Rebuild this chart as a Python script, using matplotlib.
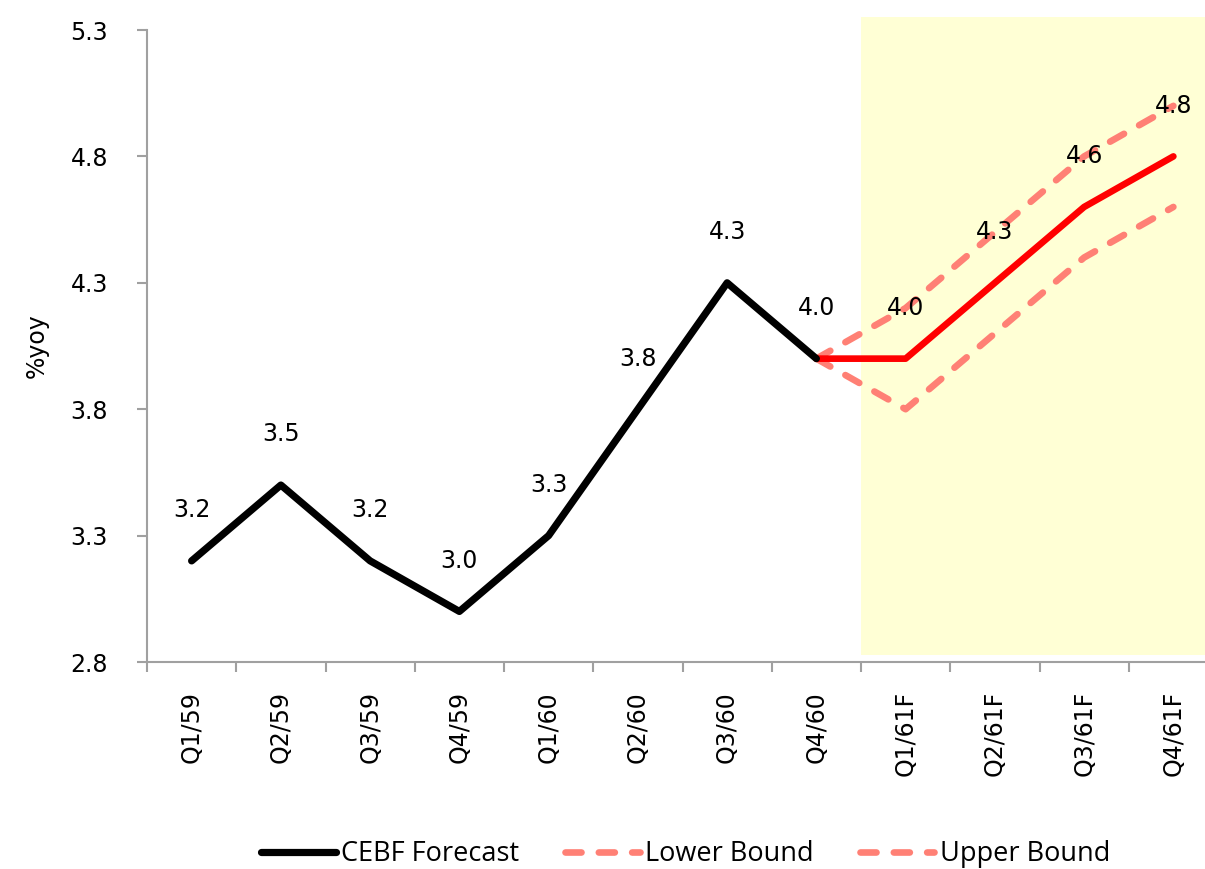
import numpy as np
import matplotlib.pyplot as plt

quarters = ["Q1/59", "Q2/59", "Q3/59", "Q4/59", "Q1/60", "Q2/60", "Q3/60", "Q4/60",
            "Q1/61F", "Q2/61F", "Q3/61F", "Q4/61F"]
actual = [3.2, 3.5, 3.2, 3.0, 3.3, 3.8, 4.3, 4.0]
forecast = [4.0, 4.0, 4.3, 4.6, 4.8]          # Q4/60 .. Q4/61F
lower = [4.0, 3.8, 4.1, 4.4, 4.6]
upper = [4.0, 4.2, 4.5, 4.8, 5.0]

x = np.arange(len(quarters))
xa = x[:len(actual)]
xf = x[len(actual) - 1:]

fig = plt.figure(figsize=(12.05, 8.69), dpi=100)
ax = fig.add_axes([147 / 1205, 1 - 662 / 869, 1071 / 1205, 632 / 869])

# shaded forecast period
ax.axvspan(7.5, 11.6, ymin=0.011, ymax=1.02, color="#FFFFD5", lw=0, clip_on=False, zorder=0)

salmon = "#FF8075"
dash = (0, (2.4, 2.6))
l_lo, = ax.plot(xf, lower, color=salmon, lw=4.8, ls=dash, dash_capstyle="round", zorder=2)
l_up, = ax.plot(xf, upper, color=salmon, lw=4.8, ls=dash, dash_capstyle="round", zorder=2)
ax.plot(xf, forecast, color="#FF0000", lw=4.8, solid_capstyle="round", zorder=3)
l_act, = ax.plot(xa, actual, color="black", lw=5.2, solid_capstyle="round", zorder=3)

for i, v in zip(xa, actual):
    ax.text(i, v + 0.2, f"{v:.1f}", ha="center", va="center", fontsize=17, zorder=4)
for i, v in zip(xf[1:], forecast[1:]):
    ax.text(i, v + 0.2, f"{v:.1f}", ha="center", va="center", fontsize=17, zorder=4)

ax.set_xlim(-0.5, 11.5)
ax.set_ylim(2.8, 5.3)
ax.set_yticks([2.8, 3.3, 3.8, 4.3, 4.8, 5.3])
ax.set_yticklabels(["2.8", "3.3", "3.8", "4.3", "4.8", "5.3"], fontsize=17)
ax.set_xticks(x)
ax.set_xticklabels(quarters, rotation=90, fontsize=17)
ax.set_xticks(np.arange(-0.5, 12, 1), minor=True)
ax.tick_params(axis="x", which="major", length=0, pad=21)
ax.tick_params(axis="x", which="minor", length=7, width=1.5, color="#A0A0A0")
ax.tick_params(axis="y", length=7, width=1.5, color="#A0A0A0", pad=21)

for s in ["top", "right"]:
    ax.spines[s].set_visible(False)
for s in ["left", "bottom"]:
    ax.spines[s].set_color("#A0A0A0")
    ax.spines[s].set_linewidth(1.5)

ax.set_ylabel("%yoy", fontsize=17, labelpad=16)

fig.legend([l_act, l_lo, l_up], ["CEBF Forecast", "Lower Bound", "Upper Bound"],
           loc="center", bbox_to_anchor=(0.569, 0.017), ncol=3, frameon=False,
           prop={"family": ["Open Sans", "DejaVu Sans"], "size": 19.5},
           handlelength=2.75, handletextpad=0.2, columnspacing=1.7)

fig.savefig("out.png", dpi=100)
